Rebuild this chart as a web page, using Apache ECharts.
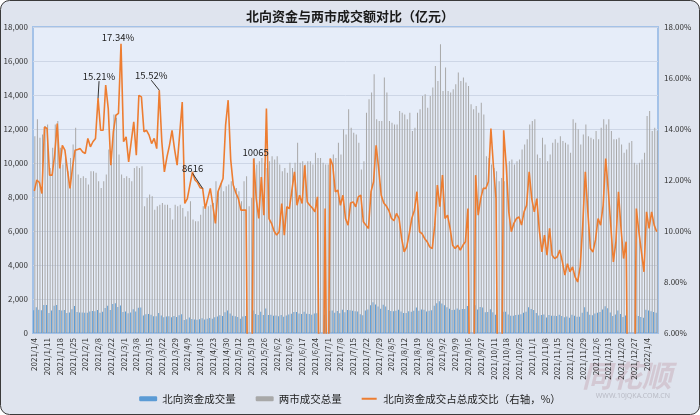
<!DOCTYPE html>
<html>
<head>
<meta charset="utf-8">
<script src="https://cdn.jsdelivr.net/npm/echarts@6/dist/echarts.min.js"></script>
<style>
html,body{margin:0;padding:0;background:#ffffff;}
#main{width:700px;height:415px;}
</style>
</head>
<body>
<div id="main"></div>
<script>
const tickLabels = ['2021/1/4','2021/1/11','2021/1/18','2021/1/25','2021/2/1','2021/2/8','2021/2/22','2021/3/1','2021/3/8','2021/3/15','2021/3/22','2021/3/29','2021/4/9','2021/4/16','2021/4/23','2021/4/30','2021/5/12','2021/5/19','2021/5/26','2021/6/2','2021/6/9','2021/6/17','2021/6/24','2021/7/1','2021/7/8','2021/7/15','2021/7/22','2021/7/29','2021/8/5','2021/8/12','2021/8/19','2021/8/26','2021/9/2','2021/9/9','2021/9/16','2021/9/27','2021/10/11','2021/10/18','2021/10/25','2021/11/1','2021/11/8','2021/11/15','2021/11/22','2021/11/29','2021/12/6','2021/12/13','2021/12/20','2021/12/27','2022/1/4'];

// 两市成交总量（亿元）
const totalVolume = [
11580,12570,11480,11680,12170,12270,9710,10890,12270,12470,
10890,9910,10300,9520,10300,11090,12080,9320,9120,9220,
9120,8730,9520,9520,9420,8930,8530,8930,9320,10800,
10700,12860,12660,10500,9320,9120,9220,9120,8930,9710,
9810,9710,9810,7450,7940,8140,8040,7250,7450,7550,
7650,7550,7550,7350,6670,7550,7450,7550,7350,6860,
7160,7750,6670,6570,6570,6960,7450,7350,7450,7550,
7650,8930,8440,8830,8340,8630,8730,8930,8630,8530,
8340,7750,8930,9220,7450,7940,10300,9910,10110,10300,
10010,9710,10110,10400,10210,10400,9910,9520,9710,9420,
10010,9710,10010,11190,10010,10110,9910,10110,10110,9910,
10600,10300,10300,10010,9910,9910,10210,10500,10300,11190,
10500,11980,11680,13160,12080,11780,11680,11190,9620,10110,
12960,13750,14140,15220,12570,12470,12470,15030,14140,12470,
12370,12270,12270,13060,12960,12860,12570,12960,11880,12080,
12960,13160,13940,14040,13250,13940,14440,15710,14830,16990,
14240,15620,14240,14140,14340,14630,15320,14830,15030,14730,
14530,13450,13160,13350,12960,13550,12860,10400,10300,9910,
9710,9520,8930,9120,8930,9910,10110,10210,9910,10110,
10210,10800,11090,11390,12270,12470,12570,10500,10300,11480,
11090,10110,10500,11190,11390,11190,11580,11290,11190,11090,
10600,12570,12370,11980,11090,11680,12270,11580,11480,11390,
11880,11390,12080,12570,12270,12570,11880,11390,11390,11480,
11090,10600,10800,11190,11290,10010,9910,10010,10210,10600,
12760,13060,11880,12080,11900
];

// 北向资金成交量（亿元）
const northVolume = [
1340,1510,1370,1340,1650,1640,1180,1330,1600,1650,
1360,1320,1360,1180,1200,1390,1590,1230,1210,1210,
1190,1190,1270,1290,1280,1360,1190,1250,1470,1600,
1350,1700,1750,1530,1620,1230,1260,1160,1210,1390,
1270,1490,1500,1030,1110,1120,1080,990,990,1170,
1030,930,970,980,930,1000,940,1040,1110,760,
810,915,822,788,782,814,869,800,840,881,
842,920,974,1042,1006,1221,1321,1143,1018,981,
940,839,966,998,0,0,1323,1117,1061,1248,
1063,1437,1061,1071,1021,1023,988,1055,955,1031,
1089,1126,1233,1232,1141,1120,1247,1126,1113,1080,
1140,1168,0,0,1078,0,1311,1321,1189,1298,
1156,1366,1225,1346,1340,1312,1279,1269,1096,1047,
1326,1388,1632,1816,1679,1552,1421,1668,1553,1347,
1299,1276,1312,1370,1258,1181,1179,1283,1247,1304,
1495,1312,1380,1363,1270,1308,1344,1607,1750,1861,
1736,1638,1512,1428,1353,1362,1446,1372,1418,1411,
1581,0,0,1628,1376,1527,1501,1214,1229,1390,
1216,1073,0,0,1245,1247,1087,1018,1021,1061,
1077,1105,1192,1254,1512,1405,1351,1183,1030,1054,
1091,915,1061,1013,1016,1006,1071,994,925,967,
890,1080,1014,958,954,1195,1512,1245,1069,1046,
1146,1195,1236,1384,1575,1458,1212,1001,1091,1325,
1120,946,1035,0,0,0,1078,998,937,890,
1372,1319,1277,1236,1186
];

// 北向资金成交占总成交比（%）
const northRatio = [
11.57,12.0,11.9,11.47,14.08,14.02,12.19,12.19,13.0,14.21,
12.45,13.36,13.17,12.4,11.67,12.5,13.17,13.2,13.23,13.1,
13.04,13.63,13.3,13.5,13.63,15.21,13.95,13.95,15.72,14.8,
12.58,13.9,14.54,14.61,17.34,13.5,13.69,12.71,13.5,14.28,
12.97,15.32,15.26,13.89,13.95,13.76,13.43,13.63,13.23,15.52,
13.5,12.32,12.9,13.36,13.95,13.2,12.58,13.8,15.06,11.08,
11.27,11.8,12.32,12.0,11.9,11.7,11.67,10.88,11.27,11.67,
11.0,10.3,11.54,11.8,12.06,14.15,15.13,12.8,11.8,11.5,
11.27,10.82,10.82,10.82,0,0,12.84,11.27,10.49,12.12,
10.62,14.8,10.49,10.3,10.0,9.84,9.97,11.08,9.84,10.95,
10.88,11.6,12.32,11.01,11.4,11.08,12.58,11.14,11.01,10.9,
10.75,11.34,0,0,10.88,0,12.84,12.58,11.54,11.6,
11.01,11.4,10.49,10.23,11.1,11.14,10.95,11.34,11.4,10.36,
10.23,10.1,11.54,11.93,13.36,12.45,11.4,11.1,10.98,10.8,
10.5,10.4,10.69,10.49,9.71,9.18,9.38,9.9,10.5,10.8,
11.54,9.97,9.9,9.71,9.58,9.38,9.31,10.23,11.8,10.95,
12.19,10.49,10.62,10.1,9.44,9.31,9.44,9.25,9.44,9.58,
10.88,0,0,12.19,10.62,11.27,11.67,11.67,11.93,14.02,
12.52,11.27,0,0,13.95,12.58,10.75,9.97,10.3,10.49,
10.55,10.23,10.75,11.01,12.32,11.27,10.75,11.27,10.0,9.18,
9.84,9.05,10.1,9.05,8.92,8.99,9.25,8.8,8.27,8.72,
8.4,8.59,8.2,8.0,8.6,10.23,12.32,10.75,9.31,9.18,
9.65,10.49,10.23,11.01,12.84,11.6,10.2,8.79,9.58,11.54,
10.1,8.92,9.58,0,0,0,10.88,9.97,9.18,8.4,
10.75,10.1,10.75,10.23,9.97
];

// data labels shown in the original chart (index -> text)
const annotationText = {25:'15.21%', 34:'17.34%', 49:'15.52%', 66:'8616', 86:'10065'};

const leftTicks = {min:0, max:18000, interval:2000};
const rightTicks = {min:6, max:18, interval:2};

// category dates: each labelled trading day followed by the next four weekdays
function buildCategories(labels){
  const out = [];
  labels.forEach(function(s){
    const p = s.split('/').map(Number);
    let d = new Date(p[0], p[1]-1, p[2]);
    out.push(s);
    let added = 0;
    while(added < 4){
      d = new Date(d.getFullYear(), d.getMonth(), d.getDate()+1);
      const wd = d.getDay();
      if(wd === 0 || wd === 6) continue;
      out.push(d.getFullYear()+'/'+(d.getMonth()+1)+'/'+d.getDate());
      added++;
    }
  });
  return out;
}
const categories = buildCategories(tickLabels).slice(0, totalVolume.length);

// label placement style (offsets relative to default "top" label position; third = leader line)
const labelShift = {25:[1,-12,true], 34:[-3,3,false], 49:[-8,-5,true], 66:[-10,-10,true], 86:[2,4,false]};

const lineData = northRatio.map(function(v,i){
  if(annotationText[i] !== undefined){
    return {value:v, label:{show:true, formatter:annotationText[i]}, labelLine:{show:labelShift[i][2]}};
  }
  return v;
});

const FONT = '"Noto Sans CJK SC","Noto Sans",sans-serif';
const LINE_ICON = 'path://M0,0L0.01,0L0.01,0.01ZM0,3.2L30,3.2L30,6.8L0,6.8ZM0,10L0.01,10L0.01,9.99Z';
const chart = echarts.init(document.getElementById('main'), null, {renderer:'canvas'});
chart.setOption({
  animation:false,
  backgroundColor:'#ffffff',
  graphic:[
    {type:'rect', z:-10, silent:true, shape:{x:0.5,y:0.5,width:699,height:414,r:9}, style:{fill:'#dfe4ee', stroke:'#3a3a3a', lineWidth:1}},
    {type:'text', z:-5, silent:true, right:28, bottom:24, style:{text:'同花顺', font:'italic bold 30px "Noto Sans CJK SC"', fill:'rgba(190,150,160,0.35)'}},
    {type:'text', z:-5, silent:true, right:30, bottom:16, style:{text:'WWW.10JQKA.COM.CN', font:'7px "Noto Sans"', fill:'rgba(160,160,170,0.6)'}}
  ],
  title:{
    text:'北向资金与两市成交额对比（亿元）',
    left:'center', top:5,
    textStyle:{fontFamily:FONT, fontSize:13, fontWeight:'bold', color:'#1a1a1a'}
  },
  legend:{
    bottom:6, left:'center', itemGap:20, itemWidth:18, itemHeight:5,
    textStyle:{fontFamily:FONT, fontSize:10.5, color:'#222'},
    data:['北向资金成交量','两市成交总量',{name:'北向资金成交占总成交比（右轴，%）', icon:LINE_ICON}]
  },
  grid:{
    left:33, right:42, top:27, bottom:82, show:true,
    backgroundColor:'#e6edf9', borderColor:'#a4c2e8', borderWidth:2
  },
  xAxis:{
    type:'category', data:categories, boundaryGap:true,
    axisLine:{show:true, lineStyle:{color:'#a4c2e8', width:1}},
    axisTick:{show:false},
    axisLabel:{interval:4, rotate:90, fontSize:8, margin:5, color:'#333', fontFamily:FONT},
    splitLine:{show:false}
  },
  yAxis:[
    {type:'value', min:leftTicks.min, max:leftTicks.max, interval:leftTicks.interval,
     axisLine:{show:false}, axisTick:{show:false},
     axisLabel:{fontSize:8, color:'#333', margin:5, fontFamily:FONT, formatter:function(v){return v.toLocaleString('en-US');}},
     splitLine:{show:true, lineStyle:{color:'#cdd6e6', width:1}}},
    {type:'value', min:rightTicks.min, max:rightTicks.max, interval:rightTicks.interval,
     axisLine:{show:false}, axisTick:{show:false},
     axisLabel:{fontSize:8, color:'#333', margin:6, fontFamily:FONT, formatter:function(v){return v.toFixed(2)+'%';}},
     splitLine:{show:false}}
  ],
  series:[
    {name:'北向资金成交量', type:'bar', yAxisIndex:0, data:northVolume,
     barGap:'15%', barCategoryGap:'22%', itemStyle:{color:'#5b9bd5'}},
    {name:'两市成交总量', type:'bar', yAxisIndex:0, data:totalVolume,
     itemStyle:{color:'#a8a8a8'}},
    {name:'北向资金成交占总成交比（右轴，%）', type:'line', yAxisIndex:1, data:lineData,
     clip:true, symbol:'circle', symbolSize:0.01, showSymbol:true, showAllSymbol:true, z:5,
     lineStyle:{color:'#ed7d31', width:1.6}, itemStyle:{color:'#ed7d31'},
     label:{show:false, position:'top', fontSize:9.5, color:'#222', fontFamily:FONT},
     labelLine:{lineStyle:{color:'#333', width:1}},
     labelLayout:function(p){
       const s = labelShift[p.dataIndex];
       return s ? {dx:s[0], dy:s[1]} : {};
     }}
  ]
});
</script>
</body>
</html>
